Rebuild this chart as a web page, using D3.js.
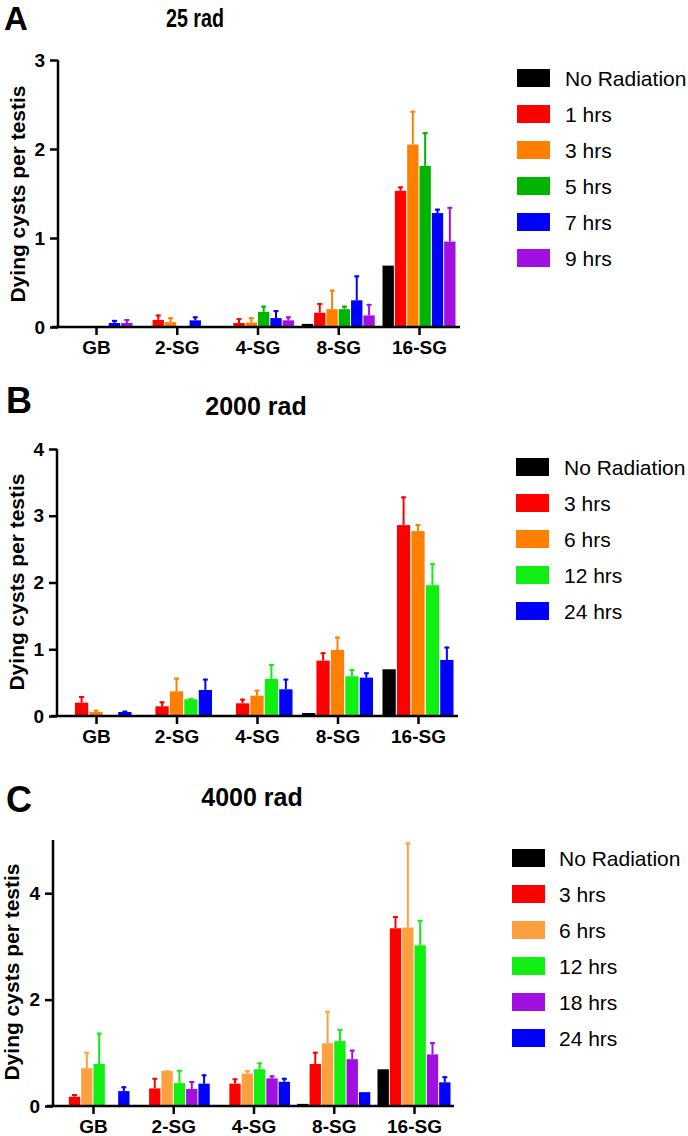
<!DOCTYPE html>
<html>
<head>
<meta charset="utf-8">
<script src="https://cdn.jsdelivr.net/npm/d3@7"></script>
<style>
  html, body { margin: 0; padding: 0; background: #fff; }
  svg { display: block; font-family: "Liberation Sans", Arial, sans-serif; }
</style>
</head>
<body>
<svg id="chart" width="688" height="1136"></svg>
<script>
// ---------- DATA ----------
const categories = ["GB", "2-SG", "4-SG", "8-SG", "16-SG"];

// Panel A: 25 rad
const seriesA = ["No Radiation", "1 hrs", "3 hrs", "5 hrs", "7 hrs", "9 hrs"];
const colorsA = ["#000000", "#ff0000", "#ff8000", "#00b400", "#0000ff", "#a010e0"];
const meanA_noRad = [0, 0, 0, 0.035, 0.69];
const meanA_1h = [0, 0.08, 0.045, 0.16, 1.53];
const meanA_3h = [0, 0.055, 0.05, 0.2, 2.05];
const meanA_5h = [0, 0, 0.17, 0.2, 1.81];
const meanA_7h = [0.045, 0.075, 0.1, 0.3, 1.28];
const meanA_9h = [0.045, 0, 0.075, 0.13, 0.96];
const errA_noRad = [0, 0, 0, 0, 0];
const errA_1h = [0, 0.06, 0.055, 0.11, 0.05];
const errA_3h = [0, 0.055, 0.06, 0.22, 0.38];
const errA_5h = [0, 0, 0.07, 0.04, 0.38];
const errA_7h = [0.035, 0.045, 0.09, 0.28, 0.05];
const errA_9h = [0.045, 0, 0.045, 0.13, 0.39];
const ticksA = [0, 1, 2, 3];

// Panel B: 2000 rad
const seriesB = ["No Radiation", "3 hrs", "6 hrs", "12 hrs", "24 hrs"];
const colorsB = ["#000000", "#ff0000", "#ff8000", "#11ee11", "#0000ff"];
const meanB_noRad = [0, 0, 0, 0.045, 0.7];
const meanB_3h = [0.2, 0.145, 0.19, 0.83, 2.86];
const meanB_6h = [0.06, 0.37, 0.305, 0.99, 2.77];
const meanB_12h = [0, 0.25, 0.555, 0.595, 1.96];
const meanB_24h = [0.06, 0.39, 0.4, 0.575, 0.84];
const errB_noRad = [0, 0, 0, 0, 0];
const errB_3h = [0.1, 0.075, 0.07, 0.125, 0.43];
const errB_6h = [0.035, 0.205, 0.09, 0.2, 0.105];
const errB_12h = [0, 0.02, 0.225, 0.11, 0.33];
const errB_24h = [0.02, 0.17, 0.16, 0.08, 0.2];
const ticksB = [0, 1, 2, 3, 4];

// Panel C: 4000 rad
const seriesC = ["No Radiation", "3 hrs", "6 hrs", "12 hrs", "18 hrs", "24 hrs"];
const colorsC = ["#000000", "#ff0000", "#ffa040", "#11ee11", "#a010e0", "#0000ff"];
const meanC_noRad = [0, 0, 0, 0.04, 0.69];
const meanC_3h = [0.175, 0.33, 0.42, 0.79, 3.34];
const meanC_6h = [0.71, 0.66, 0.61, 1.18, 3.355];
const meanC_12h = [0.79, 0.43, 0.69, 1.22, 3.02];
const meanC_18h = [0, 0.32, 0.52, 0.88, 0.97];
const meanC_24h = [0.28, 0.42, 0.455, 0.26, 0.445];
const errC_noRad = [0, 0, 0, 0, 0];
const errC_3h = [0.05, 0.2, 0.1, 0.23, 0.23];
const errC_6h = [0.31, 0.01, 0.065, 0.61, 1.6];
const errC_12h = [0.59, 0.25, 0.13, 0.23, 0.48];
const errC_18h = [0, 0.15, 0.055, 0.18, 0.23];
const errC_24h = [0.09, 0.175, 0.075, 0, 0.115];
const ticksC = [0, 2, 4];

// ---------- PANELS ----------
const panels = [
  {
    letter: "A", title: "25 rad", series: seriesA, colors: colorsA,
    means: [meanA_noRad, meanA_1h, meanA_3h, meanA_5h, meanA_7h, meanA_9h],
    errs: [errA_noRad, errA_1h, errA_3h, errA_5h, errA_7h, errA_9h],
    ticks: ticksA, yMax: 3,
    letterPos: [4, 30], letterSize: 33, titlePos: [195, 27], titleLen: 58,
    axisX: 58, axisEnd: 460, y0: 327, yTop: 60, firstC: 96, lastC: 419, groupW: 73,
    ylabPos: [25, 194],
    legX: 517, legTextX: 565, legY: 78
  },
  {
    letter: "B", title: "2000 rad", series: seriesB, colors: colorsB,
    means: [meanB_noRad, meanB_3h, meanB_6h, meanB_12h, meanB_24h],
    errs: [errB_noRad, errB_3h, errB_6h, errB_12h, errB_24h],
    ticks: ticksB, yMax: 4,
    letterPos: [6, 413], letterSize: 36, titlePos: [256, 415], titleLen: null,
    axisX: 57, axisEnd: 458, y0: 716, yTop: 449, firstC: 96, lastC: 418, groupW: 71,
    ylabPos: [24, 582],
    legX: 516, legTextX: 564, legY: 467
  },
  {
    letter: "C", title: "4000 rad", series: seriesC, colors: colorsC,
    means: [meanC_noRad, meanC_3h, meanC_6h, meanC_12h, meanC_18h, meanC_24h],
    errs: [errC_noRad, errC_3h, errC_6h, errC_12h, errC_18h, errC_24h],
    ticks: ticksC, yMax: 5,
    letterPos: [6, 812], letterSize: 36, titlePos: [252, 806], titleLen: null,
    axisX: 53, axisEnd: 454, y0: 1106, yTop: 840, firstC: 93, lastC: 414, groupW: 73,
    ylabPos: [19, 972],
    legX: 512, legTextX: 559, legY: 858
  }
];

const svg = d3.select("#chart");

panels.forEach(p => {
  const g = svg.append("g");

  const x = d3.scalePoint().domain(categories).range([p.firstC, p.lastC]);
  const xs = d3.scaleBand().domain(p.series).range([-p.groupW / 2, p.groupW / 2]).paddingInner(0.08);
  const y = d3.scaleLinear().domain([0, p.yMax]).range([p.y0, p.yTop]);

  // letter
  g.append("text").attr("x", p.letterPos[0]).attr("y", p.letterPos[1])
    .attr("font-size", p.letterSize).attr("font-weight", "bold").text(p.letter);
  // title
  const t = g.append("text").attr("x", p.titlePos[0]).attr("y", p.titlePos[1])
    .attr("text-anchor", "middle").attr("font-size", 25).attr("font-weight", "bold").text(p.title);
  if (p.titleLen) t.attr("textLength", p.titleLen).attr("lengthAdjust", "spacingAndGlyphs");

  // bars
  p.series.forEach((s, si) => {
    const data = categories.map((c, ci) => ({ c, v: p.means[si][ci], e: p.errs[si][ci] }));
    const sg = g.append("g").attr("fill", p.colors[si]);
    sg.selectAll("rect").data(data.filter(d => d.v > 0)).join("rect")
      .attr("x", d => x(d.c) + xs(s))
      .attr("width", xs.bandwidth())
      .attr("y", d => y(d.v))
      .attr("height", d => y(0) - y(d.v));
    const eg = g.append("g").attr("stroke", p.colors[si]).attr("stroke-width", 2);
    const ed = data.filter(d => d.e > 0);
    eg.selectAll("line.v").data(ed).join("line").attr("class", "v")
      .attr("x1", d => x(d.c) + xs(s) + xs.bandwidth() / 2)
      .attr("x2", d => x(d.c) + xs(s) + xs.bandwidth() / 2)
      .attr("y1", d => y(d.v))
      .attr("y2", d => y(d.v + d.e));
    eg.selectAll("line.cap").data(ed).join("line").attr("class", "cap")
      .attr("x1", d => x(d.c) + xs(s) + xs.bandwidth() / 2 - 2.5)
      .attr("x2", d => x(d.c) + xs(s) + xs.bandwidth() / 2 + 2.5)
      .attr("y1", d => y(d.v + d.e) + 1)
      .attr("y2", d => y(d.v + d.e) + 1);
  });

  // y axis
  const yAxis = d3.axisLeft(y).tickValues(p.ticks).tickSize(8).tickPadding(5).tickFormat(d3.format("d"));
  const ya = g.append("g").attr("transform", `translate(${p.axisX},0)`).call(yAxis);
  ya.select(".domain").attr("d", `M0,${y(p.yMax)}V${y(0)}`).attr("stroke-width", 2.5);
  ya.selectAll(".tick line").attr("stroke-width", 2.5);
  ya.selectAll(".tick text").attr("font-size", 19).attr("font-weight", "bold")
    .attr("font-family", "Liberation Sans, Arial, sans-serif").attr("fill", "#000");

  // x axis
  const xAxis = d3.axisBottom(x).tickSize(8).tickPadding(6);
  const xa = g.append("g").attr("transform", `translate(0,${p.y0})`).call(xAxis);
  xa.select(".domain").attr("d", `M${p.axisX - 6},0H${p.axisEnd}`).attr("stroke-width", 2.5);
  xa.selectAll(".tick line").attr("stroke-width", 2.5);
  xa.selectAll(".tick text").attr("font-size", 19).attr("font-weight", "bold")
    .attr("font-family", "Liberation Sans, Arial, sans-serif").attr("fill", "#000");

  // y label
  g.append("text")
    .attr("transform", `translate(${p.ylabPos[0]},${p.ylabPos[1]}) rotate(-90)`)
    .attr("text-anchor", "middle").attr("font-size", 21).attr("font-weight", "bold")
    .text("Dying cysts per testis");

  // legend
  const lg = g.append("g");
  p.series.forEach((s, si) => {
    const cy = p.legY + si * 36;
    lg.append("rect").attr("x", p.legX).attr("y", cy - 9).attr("width", 33).attr("height", 18)
      .attr("fill", p.colors[si]);
    lg.append("text").attr("x", p.legTextX).attr("y", cy + 7.5).attr("font-size", 21).text(s);
  });
});
</script>
</body>
</html>
